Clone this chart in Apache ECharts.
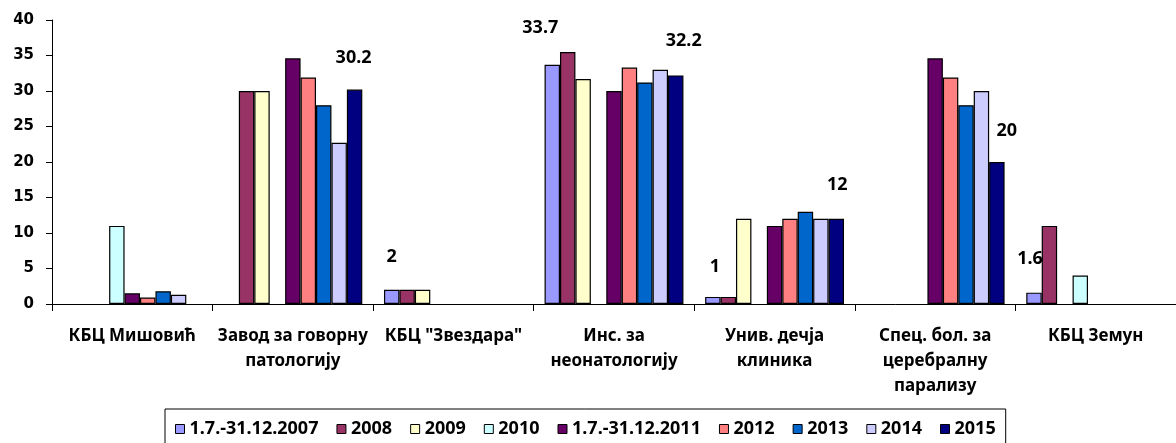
<!DOCTYPE html>
<html>
<head>
<meta charset="utf-8">
<script src="https://cdn.jsdelivr.net/npm/echarts@6/dist/echarts.min.js"></script>
<style>
html,body{margin:0;padding:0;background:#fff;}
#chart{width:1176px;height:443px;}
</style>
</head>
<body>
<div id="chart"></div>
<script>
const categories = [
  'КБЦ Мишовић',
  'Завод за говорну\nпатологију',
  'КБЦ "Звездара"',
  'Инс. за\nнеонатологију',
  'Унив. дечја\nклиника',
  'Спец. бол. за\nцеребралну\nпарализу',
  'КБЦ Земун'
];
const seriesNames = ['1.7.-31.12.2007','2008','2009','2010','1.7.-31.12.2011','2012','2013','2014','2015'];
const s2007 = [null, null, 2, 33.7, 1, null, 1.6];
const s2008 = [null, 30, 2, 35.5, 1, null, 11];
const s2009 = [null, 30, 2, 31.7, 12, null, null];
const s2010 = [11, null, null, null, null, null, 4];
const s2011 = [1.5, 34.6, null, 30, 11, 34.6, null];
const s2012 = [0.9, 31.9, null, 33.3, 12, 31.9, null];
const s2013 = [1.8, 28, null, 31.2, 13, 28, null];
const s2014 = [1.3, 22.7, null, 33, 12, 30, null];
const s2015 = [null, 30.2, null, 32.2, 12, 20, null];
const yTicks = { min: 0, max: 40, interval: 5 };

const seriesValues = [s2007, s2008, s2009, s2010, s2011, s2012, s2013, s2014, s2015];
const colors = ['#9999FF','#993366','#FFFFCC','#CCFFFF','#660066','#FF8080','#0066CC','#CCCCFF','#000080'];

// data labels shown on selected bars: [seriesIndex, categoryIndex, dx, dy]
const labelled = [
  [8, 1, -1, -18],
  [0, 2, 0, -19],
  [0, 3, -12, -23],
  [8, 3, 8, -21],
  [0, 4, 2, -16],
  [8, 4, 1, -20],
  [8, 5, 10, -17],
  [0, 6, -4, -20]
];

const calibri = '"Noto Sans", sans-serif';

const series = seriesValues.map((vals, si) => ({
  name: seriesNames[si],
  type: 'bar',
  barGap: '0%',
  barCategoryGap: '13.5%',
  itemStyle: { color: colors[si], borderColor: '#000', borderWidth: 1.2 },
  data: vals.map((v, ci) => {
    const l = labelled.find(a => a[0] === si && a[1] === ci);
    if (!l || v == null) return v;
    return {
      value: v,
      label: {
        show: true, position: 'top', distance: 5,
        offset: [l[2], l[3]],
        color: '#000', fontFamily: calibri, fontWeight: 'bold', fontSize: 18
      }
    };
  })
}));

const chart = echarts.init(document.getElementById('chart'), null, { renderer: 'canvas' });
chart.setOption({
  animation: false,
  backgroundColor: '#fff',
  color: colors,
  grid: { left: 52, right: 0, top: 20, bottom: 139, containLabel: false },
  legend: {
    left: 165, top: 409,
    padding: [11, 10, 10, 10],
    borderColor: '#000', borderWidth: 1,
    itemWidth: 9, itemHeight: 9, itemGap: 18,
    icon: 'rect',
    itemStyle: { borderColor: '#000', borderWidth: 1 },
    textStyle: { color: '#000', fontFamily: calibri, fontWeight: 'bold', fontSize: 18, lineHeight: 18 },
    data: seriesNames
  },
  xAxis: {
    type: 'category',
    data: categories,
    axisLine: { lineStyle: { color: '#000', width: 1 } },
    axisTick: { show: true, interval: 0, length: 7, lineStyle: { color: '#000' } },
    axisLabel: { interval: 0, margin: 20, color: '#000', fontFamily: calibri, fontWeight: 'bold', fontSize: 17, lineHeight: 25 },
    splitLine: { show: false }
  },
  yAxis: {
    type: 'value',
    min: yTicks.min, max: yTicks.max, interval: yTicks.interval,
    axisLine: { show: true, lineStyle: { color: '#000', width: 1 } },
    axisTick: { show: true, length: 6, lineStyle: { color: '#000' } },
    axisLabel: { margin: 18, color: '#000', fontFamily: '"DejaVu Sans", sans-serif', fontWeight: 'bold', fontSize: 15 },
    splitLine: { show: false }
  },
  series: series
});
</script>
</body>
</html>
